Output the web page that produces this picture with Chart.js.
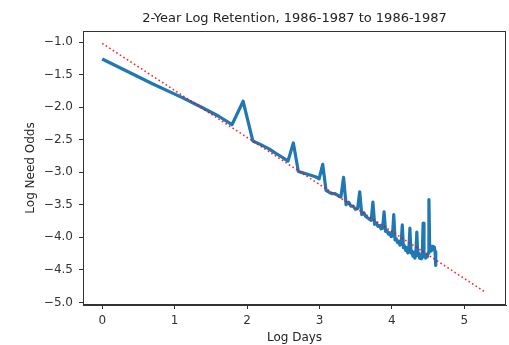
<!DOCTYPE html>
<html>
<head>
<meta charset="utf-8">
<script src="https://cdn.jsdelivr.net/npm/chart.js@4"></script>
<style>
  html, body { margin: 0; padding: 0; background: #fff; }
  canvas { display: block; }
</style>
</head>
<body>
<canvas id="retentionChart" width="509" height="345"></canvas>
<script>
// days since first review (x is plotted as ln(day))
const days = Array.from({ length: 100 }, (_, i) => i + 1);

// log need odds for each day
const logNeedOdds = [
    -1.26, -1.64, -1.85, -2.01, -2.14, -2.27, -1.91, -2.52, -2.58, -2.64,
    -2.71, -2.77, -2.83, -2.55, -2.99, -3.01, -3.03, -3.05, -3.07, -3.10,
    -2.88, -3.28, -3.31, -3.33, -3.33, -3.36, -3.38, -3.08, -3.50, -3.46,
    -3.52, -3.52, -3.57, -3.56, -3.30, -3.65, -3.62, -3.68, -3.70, -3.72,
    -3.74, -3.46, -3.80, -3.78, -3.83, -3.82, -3.87, -3.86, -3.61, -3.91,
    -3.90, -3.95, -3.93, -3.99, -3.98, -3.65, -4.04, -4.02, -4.08, -4.06,
    -4.12, -4.10, -3.81, -4.16, -4.13, -4.20, -4.16, -4.24, -4.19, -3.86,
    -4.24, -4.21, -4.29, -4.23, -4.32, -4.26, -3.92, -4.28, -4.24, -4.32,
    -4.27, -4.33, -4.28, -3.78, -4.30, -4.26, -4.32, -4.28, -4.30, -4.24,
    -3.42, -4.20, -4.16, -4.21, -4.14, -4.18, -4.19, -4.15, -4.22, -4.43
];

// fitted trend line end points
const fitX = [0, 5.3];
const fitY = [-1.02, -4.85];

const xTicks = [0, 1, 2, 3, 4, 5];
const yTicks = [-1.0, -1.5, -2.0, -2.5, -3.0, -3.5, -4.0, -4.5, -5.0];

const titleText = '2-Year Log Retention, 1986-1987 to 1986-1987';
const yTitle = 'Log Need Odds';

const FONT = "'DejaVu Sans', sans-serif";
const AXIS = '#333';

const blueData = days.map((d, i) => ({ x: Math.log(d), y: logNeedOdds[i] }));
const redData = fitX.map((x, i) => ({ x: x, y: fitY[i] }));

// spines on all four sides, the title over the axes and the y label
const framePlugin = {
    id: 'frame',
    afterDraw(chart) {
        const { ctx, chartArea: a } = chart;
        ctx.save();
        ctx.strokeStyle = AXIS;
        ctx.lineWidth = 1;
        ctx.strokeRect(a.left + 0.5, a.top + 0.5, a.right - a.left - 1, a.bottom - a.top - 1);
        ctx.fillStyle = '#222';
        ctx.font = '13px ' + FONT;
        ctx.textAlign = 'center';
        ctx.textBaseline = 'alphabetic';
        ctx.fillText(titleText, (a.left + a.right) / 2, a.top - 9);

        ctx.font = '12px ' + FONT;
        ctx.translate(31, (a.top + a.bottom) / 2);
        ctx.rotate(-Math.PI / 2);
        ctx.textBaseline = 'middle';
        ctx.fillText(yTitle, 0, 0);
        ctx.restore();
    }
};

const fmt = v => (v < 0 ? '\u2212' : '') + Math.abs(v).toFixed(1);

new Chart(document.getElementById('retentionChart').getContext('2d'), {
    type: 'scatter',
    data: {
        datasets: [
            {
                data: redData,
                showLine: true,
                borderColor: 'rgba(255,0,0,0.85)',
                borderWidth: 1.6,
                borderDash: [1.6, 2.6],
                pointRadius: 0,
                order: 0,
                fill: false
            },
            {
                data: blueData,
                showLine: true,
                borderColor: '#1f77b4',
                borderWidth: 3.2,
                borderJoinStyle: 'round',
                borderCapStyle: 'butt',
                pointRadius: 0,
                tension: 0,
                order: 1,
                fill: false
            }
        ]
    },
    options: {
        responsive: false,
        animation: false,
        layout: { padding: { top: 31, right: 3, left: 0, bottom: 0 } },
        plugins: {
            legend: { display: false },
            tooltip: { enabled: false },
            title: { display: false }
        },
        scales: {
            x: {
                type: 'linear',
                min: -0.265,
                max: 5.575,
                afterBuildTicks: s => { s.ticks = xTicks.map(v => ({ value: v })); },
                afterFit: s => { s.height = 40; },
                grid: { drawOnChartArea: false, drawTicks: true, tickLength: 4, color: AXIS },
                border: { display: true, color: AXIS },
                ticks: {
                    color: '#333',
                    font: { family: FONT, size: 12 },
                    padding: 5,
                    maxRotation: 0,
                    callback: v => String(v)
                },
                title: {
                    display: true,
                    text: 'Log Days',
                    color: '#222',
                    font: { family: FONT, size: 12 },
                    padding: { top: 0, bottom: 0 }
                }
            },
            y: {
                type: 'linear',
                min: -5.04,
                max: -0.83,
                afterBuildTicks: s => { s.ticks = yTicks.map(v => ({ value: v })); },
                afterFit: s => { s.width = 83; },
                grid: { drawOnChartArea: false, drawTicks: true, tickLength: 4, color: AXIS },
                border: { display: true, color: AXIS },
                ticks: {
                    color: '#333',
                    font: { family: FONT, size: 12 },
                    padding: 6,
                    callback: v => fmt(v)
                }
            }
        }
    },
    plugins: [framePlugin]
});
</script>
</body>
</html>
